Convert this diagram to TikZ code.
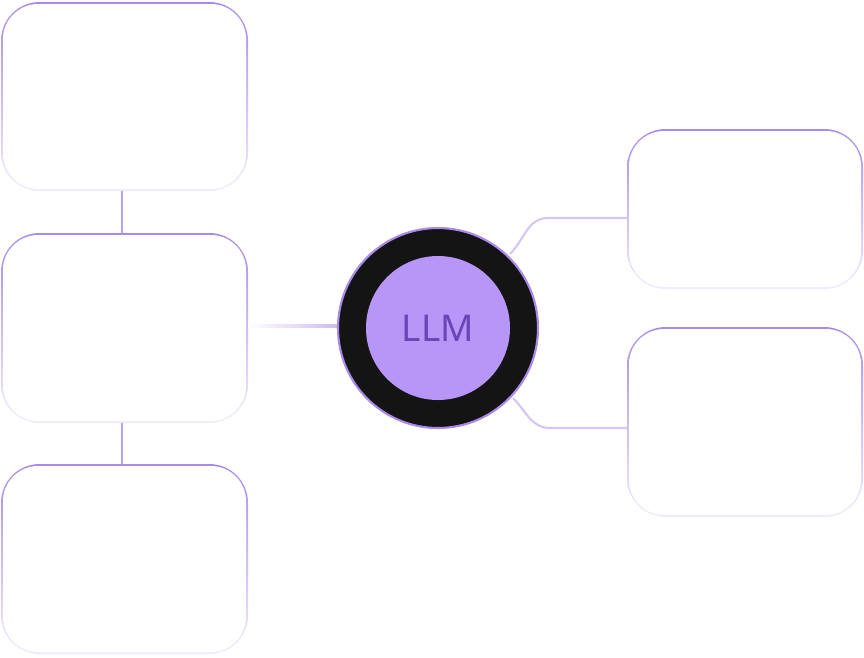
\documentclass[tikz,border=0pt]{standalone}
\usepackage{fontspec}
\setmainfont{Noto Sans}
\usetikzlibrary{positioning}
\definecolor{lilac}{HTML}{A98AEB}
\definecolor{lilacpale}{HTML}{F1ECFB}
\definecolor{llmfill}{HTML}{B896F7}
\definecolor{llmtext}{HTML}{6A45B8}
\definecolor{wire}{HTML}{D6C6F4}
\newcommand{\lmbox}[5]{%
  \shade[top color=lilac,bottom color=lilacpale,rounded corners=22] (#2,#3) rectangle (#4,#5);
  \fill[white,rounded corners=20] ({#2+2},{#3+2}) rectangle ({#4-2},{#5-2});
  \coordinate (#1) at ({(#2+#4)/2},{(#3+#5)/2});}
\begin{document}
\begin{tikzpicture}[x=0.02cm,y=-0.02cm]
\useasboundingbox (0,0) rectangle (864,657);
% left column
\lmbox{boxa}{1}{2}{248}{191}
\lmbox{boxb}{1}{233}{248}{423}
\lmbox{boxc}{1}{464}{248}{654}
% right column
\lmbox{boxd}{627}{129}{863}{289}
\lmbox{boxe}{627}{327}{863}{517}
% anchors for wires
\coordinate (aS) at (122,191);
\coordinate (bN) at (122,233);
\coordinate (bS) at (122,423);
\coordinate (cN) at (122,464);
\coordinate (bE) at (248,326);
\coordinate (dW) at (627,218);
\coordinate (eW) at (627,428);
% wires
\draw[lilac!80,line width=1.2pt] (aS)--(bN);
\draw[lilac!80,line width=1.2pt] (bS)--(cN);
\shade[left color=white,right color=lilac!60] (bE)++(0,-1.5) rectangle (340,327.5);
\draw[wire,line width=1.2pt] (510,254) to[out=45,in=180] (548,218) -- (dW);
\draw[wire,line width=1.2pt] (513,398) to[out=-45,in=180] (550,428) -- (eW);
% LLM
\node[circle,fill=black!92,draw=lilac,line width=1.2pt,minimum size=200*0.02cm,inner sep=0] (ring) at (438,328) {};
\node[circle,fill=llmfill,minimum size=144*0.02cm,inner sep=0,text=llmtext,font=\fontsize{21}{25}\selectfont] (llm) at (ring) {LLM};
\end{tikzpicture}
\end{document}
